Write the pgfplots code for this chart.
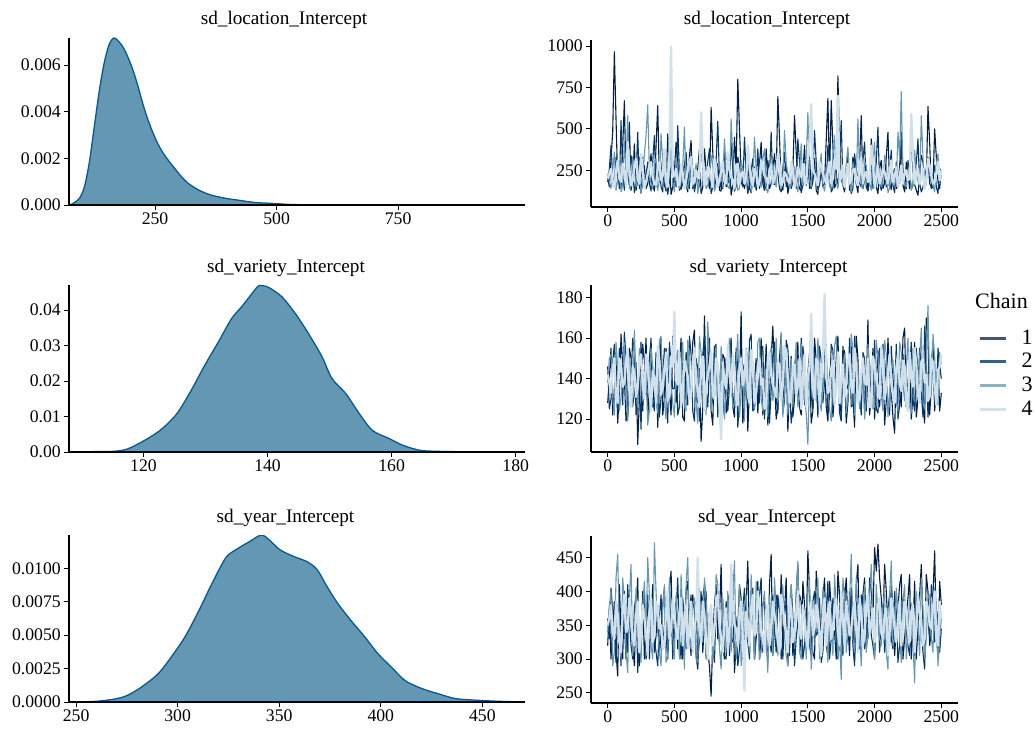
\documentclass[border=0pt]{standalone}
\usepackage{pgfplots}
\pgfplotsset{compat=1.18}
\usepackage{pgfplotstable}
\usepackage{fontspec}
\setmainfont{Liberation Serif}
\definecolor{chainA}{HTML}{011F4B}
\definecolor{chainB}{HTML}{03396C}
\definecolor{chainC}{HTML}{6497B1}
\definecolor{chainD}{HTML}{D1E1EC}
\definecolor{densfill}{HTML}{6497B1}
\definecolor{densline}{HTML}{005B96}

\pgfplotstableread{
x d
73 0
80 0.00005
85 0.00012
95 0.00030
105 0.00080
115 0.00185
125 0.00335
135 0.00485
145 0.00605
155 0.00685
165 0.00716
175 0.00702
185 0.00674
195 0.00630
205 0.00576
215 0.00508
225 0.00433
235 0.00368
245 0.00313
255 0.00266
265 0.00228
275 0.00198
290 0.00158
305 0.00120
320 0.00090
340 0.00064
360 0.00046
380 0.00035
400 0.00027
420 0.00021
440 0.00015
460 0.00010
480 0.00008
500 0.00006
520 0.00003
550 0.000012
600 0.000006
700 0.000003
800 0.000002
900 0.000001
1011 0
}\locdens

\pgfplotstableread{
x d
108 0
112 0.0001
115.3 0.0002
117.5 0.0009
120.2 0.0033
122.3 0.0056
123.9 0.0080
125.6 0.0113
127.7 0.0174
129.9 0.0245
132.1 0.0311
134.2 0.0376
135.8 0.0409
137.5 0.0447
138.5 0.0468
139.2 0.0469
140.2 0.0464
142.3 0.0438
144.5 0.0390
146.6 0.0334
148.8 0.0268
150.4 0.0207
152.6 0.0165
154.8 0.0108
156.9 0.0061
159.6 0.0038
161.8 0.0019
164.5 0.0005
167.2 0.0002
172.6 0.00005
181.5 0
}\vardens

\pgfplotstableread{
x d
246.5 0
255 0.00002
262 0.00008
270 0.00025
275.3 0.0005
282 0.0011
290.3 0.0021
297 0.0034
303.7 0.0049
310.3 0.0068
317 0.0089
323.7 0.0108
328.7 0.0114
335.3 0.0120
341.2 0.0125
345.3 0.0121
350.3 0.0114
357 0.0109
363.7 0.0105
368.7 0.0099
373.7 0.0086
378.7 0.0074
385.3 0.0061
392 0.0049
398.7 0.0036
405.3 0.0026
412 0.0016
420.3 0.0010
428.7 0.0006
437 0.00025
448.7 0.00012
458.7 0.00005
471 0
}\yeardens

% ---- sd_location_Intercept traces (draws at even steps) ----
\pgfplotstableread{
x a b c d
0 210 180 230 200
25 320 400 140 260
50 965 150 360 150
75 180 270 190 310
100 140 550 120 180
125 670 130 420 240
150 250 220 580 420
175 130 340 150 160
200 410 115 260 280
225 190 480 200 200
250 115 200 110 350
275 280 160 350 140
300 170 300 645 230
325 350 125 170 300
350 125 460 290 170
375 640 210 130 260
400 220 150 470 190
425 160 380 210 380
450 470 105 160 150
475 105 260 390 995
500 240 190 120 220
525 310 520 250 170
550 150 135 180 290
575 200 280 510 140
600 120 170 140 250
625 430 350 300 330
650 175 120 200 180
675 260 240 110 210
700 110 410 600 600
725 380 160 230 160
750 205 300 160 270
775 630 110 340 200
800 145 220 125 320
825 290 545 270 150
850 125 140 190 240
875 360 260 440 180
900 180 190 150 360
925 100 420 560 210
950 450 125 210 140
975 800 330 130 290
1000 230 180 310 230
1025 140 450 175 170
1050 330 110 240 400
1075 115 250 120 190
1100 270 150 450 260
1125 190 380 200 150
1150 420 200 150 310
1175 130 130 380 220
1200 210 310 115 170
1225 170 480 260 280
1250 350 165 185 200
1275 695 230 330 350
1300 155 120 140 160
1325 240 360 490 240
1350 110 190 220 190
1375 300 140 160 300
1400 580 270 270 150
1425 185 440 120 270
1450 125 115 410 210
1475 400 210 200 180
1500 215 330 600 340
1525 140 155 150 650
1550 320 490 240 230
1575 105 135 180 160
1600 250 240 350 280
1625 170 180 125 200
1650 685 400 280 250
1675 670 120 200 170
1700 145 280 460 320
1725 820 170 140 700
1750 200 550 260 210
1775 120 140 175 150
1800 360 230 390 290
1825 160 110 120 190
1850 280 350 230 260
1875 115 200 560 160
1900 580 150 160 330
1925 190 420 300 220
1950 130 125 190 180
1975 440 290 130 400
2000 225 185 420 150
2025 110 510 210 270
2050 310 130 150 200
2075 175 250 340 240
2100 480 160 115 170
2125 135 370 270 310
2150 260 115 200 210
2175 150 220 480 150
2200 390 480 725 280
2225 120 150 160 230
2250 230 310 250 190
2275 470 135 130 590
2300 165 260 370 170
2325 100 440 185 260
2350 340 120 580 200
2375 200 200 140 140
2400 635 330 300 320
2425 140 150 210 220
2450 500 280 120 180
2475 180 110 350 300
2500 250 240 220 250
}\locA
% ---- sd_location_Intercept traces (draws at odd steps) ----
\pgfplotstableread{
x a b c d
12.5 150 260 180 230
37.5 480 210 250 170
62.5 560 330 130 240
87.5 260 140 300 200
112.5 390 220 160 290
137.5 180 310 250 150
162.5 540 160 140 260
187.5 200 260 330 190
212.5 130 190 150 320
237.5 330 140 280 170
262.5 200 330 170 250
287.5 140 220 460 180
312.5 260 170 230 280
337.5 160 300 140 210
362.5 400 150 320 160
387.5 180 270 190 300
412.5 330 120 300 220
437.5 125 230 140 180
462.5 300 180 250 340
487.5 150 320 170 210
512.5 420 150 330 260
537.5 130 240 140 160
562.5 280 170 270 230
587.5 160 360 160 190
612.5 340 140 220 300
637.5 140 260 150 170
662.5 230 180 290 250
687.5 380 150 180 200
712.5 150 260 270 330
737.5 250 190 140 180
762.5 140 380 210 260
787.5 360 150 280 150
812.5 200 310 160 240
837.5 130 200 300 200
862.5 280 140 180 300
887.5 150 330 260 170
912.5 310 170 140 250
937.5 160 260 330 190
962.5 260 150 200 280
987.5 500 280 140 170
1012.5 180 150 260 240
1037.5 310 230 150 200
1062.5 140 170 300 290
1087.5 230 320 180 160
1112.5 130 180 260 230
1137.5 290 140 170 180
1162.5 170 250 320 270
1187.5 380 160 140 200
1212.5 140 230 210 250
1237.5 260 170 290 170
1262.5 200 300 150 230
1287.5 450 140 260 290
1312.5 130 260 190 180
1337.5 300 150 300 220
1362.5 170 240 140 170
1387.5 250 180 250 260
1412.5 360 140 170 190
1437.5 140 300 240 240
1462.5 230 160 150 290
1487.5 160 260 300 170
1512.5 330 140 200 420
1537.5 180 210 310 250
1562.5 130 300 150 190
1587.5 290 160 270 300
1612.5 150 240 160 230
1637.5 430 170 220 170
1662.5 200 290 150 300
1687.5 400 140 330 200
1712.5 170 210 180 260
1737.5 420 300 220 180
1762.5 160 160 150 280
1787.5 240 260 290 220
1812.5 130 190 170 170
1837.5 330 140 300 250
1862.5 170 260 160 200
1887.5 300 170 250 280
1912.5 140 310 140 170
1937.5 250 150 280 240
1962.5 180 230 170 190
1987.5 310 140 300 300
2012.5 150 300 150 210
2037.5 260 170 260 170
2062.5 140 230 180 260
2087.5 330 150 290 200
2112.5 170 250 140 240
2137.5 230 160 230 180
2162.5 140 300 170 270
2187.5 280 170 330 210
2212.5 160 260 200 170
2237.5 300 140 150 250
2262.5 140 230 280 200
2287.5 250 160 180 350
2312.5 130 290 240 220
2337.5 230 170 150 170
2362.5 300 150 330 260
2387.5 180 260 170 200
2412.5 420 170 250 280
2437.5 150 220 160 170
2462.5 330 150 290 230
2487.5 140 260 180 190
}\locB

% ---- sd_variety_Intercept traces ----
\pgfplotstableread{
x a b c d
0 128 146 138 142
25 155 130 152 133
50 135 157 122 150
75 118 125 145 128
100 162 142 131 145
125 140 163 158 138
150 125 121 119 155
175 150 139 141 126
200 132 153 164 143
225 107.5 128 126 136
250 158 115 148 152
275 143 149 133 130
300 120 136 117 147
325 152 160 155 124
350 138 124 140 140
375 116 144 123 156
400 160 131 161 132
425 130 155 129 145
450 146 118 150 129
475 122 147 136 151
500 155 135 121 173
525 137 122 154 137
550 160 158 142 126
575 119 141 126 149
600 148 127 159 141
625 134 152 131 131
650 164 119 147 155
675 128 145 118 135
700 109 133 153 146
725 171 161 137 124
750 142 126 168 142
775 124 140 124 153
800 156 155 145 130
825 136 121 132 147
850 118 148 156 110
875 150 137 120 139
900 131 124 149 157
925 160 159 138 133
950 121 132 127 145
975 145 116 162 127
1000 173 150 133 150
1025 128 143 119 140
1050 114 128 151 132
1075 154 162 141 154
1100 139 125 125 128
1125 123 139 158 146
1150 160 153 130 137
1175 133 120 146 125
1200 117 146 121 151
1225 150 134 155 142
1250 141 158 139 134
1275 126 123 128 148
1300 162 141 163 129
1325 137 129 134 156
1350 114 155 122 139
1375 151 118 150 131
1400 130 147 143 147
1425 158 136 126 136
1450 122 160 157 125
1475 146 127 131 152
1500 135 143 107.5 141
1525 118 131 148 172
1550 160 152 137 130
1575 140 121 160 148
1600 125 149 124 137
1625 152 138 145 182
1650 119 124 133 133
1675 148 157 119 145
1700 133 130 156 127
1725 161 145 140 153
1750 121 119 127 140
1775 144 154 152 131
1800 128 135 131 149
1825 156 126 162 136
1850 116 161 122 155
1875 150 132 146 128
1900 138 122 135 144
1925 124 150 120 138
1950 169 141 157 150
1975 131 128 138 126
2000 120 159 126 147
2025 154 123 150 135
2050 142 146 132 156
2075 117 137 159 130
2100 160 125 121 143
2125 134 156 144 139
2150 113 131 137 128
2175 152 120 124 152
2200 126 148 153 134
2225 165 139 129 146
2250 139 127 160 124
2275 120 158 123 141
2300 158 124 147 155
2325 130 143 134 132
2350 147 133 165 148
2375 118 166 125 138
2400 162 121 176 129
2425 136 147 132 150
2450 124 130 151 136
2475 150 155 127 144
2500 133 140 147 152
}\varA
\pgfplotstableread{
x a b c d
12.5 140 125 150 138
37.5 122 148 131 145
62.5 150 138 158 131
87.5 133 155 124 150
112.5 146 127 142 136
137.5 119 150 130 148
162.5 155 132 150 134
187.5 127 160 126 146
212.5 148 122 139 131
237.5 130 140 155 149
262.5 124 157 129 137
287.5 160 132 147 152
312.5 136 150 124 135
337.5 126 129 146 144
362.5 150 153 131 128
387.5 140 121 159 149
412.5 122 141 136 136
437.5 155 130 120 153
462.5 133 158 143 132
487.5 161 135 128 146
512.5 128 152 146 139
537.5 146 126 133 153
562.5 121 145 158 133
587.5 153 133 124 145
612.5 135 161 140 130
637.5 158 124 152 148
662.5 130 150 128 138
687.5 145 119 161 126
712.5 125 152 134 151
737.5 138 134 122 136
762.5 160 147 149 146
787.5 117 128 136 132
812.5 143 157 156 150
837.5 128 138 124 127
862.5 152 122 145 148
887.5 123 150 133 135
912.5 147 136 160 143
937.5 126 126 126 152
962.5 155 153 148 130
987.5 136 129 121 145
1012.5 118 147 141 137
1037.5 152 133 155 154
1062.5 135 159 127 128
1087.5 125 124 146 147
1112.5 150 140 132 133
1137.5 142 128 160 150
1162.5 122 156 124 140
1187.5 157 135 141 127
1212.5 131 118 152 153
1237.5 166 152 129 137
1262.5 120 130 160 131
1287.5 150 145 135 147
1312.5 128 123 121 138
1337.5 154 159 150 153
1362.5 137 138 137 128
1387.5 121 126 126 145
1412.5 145 151 158 132
1437.5 126 129 131 150
1462.5 156 146 145 139
1487.5 131 132 123 126
1512.5 150 153 141 146
1537.5 124 125 156 136
1562.5 149 140 129 150
1587.5 133 156 146 127
1612.5 158 128 135 152
1637.5 126 147 157 141
1662.5 142 131 125 134
1687.5 121 154 139 149
1712.5 150 139 161 136
1737.5 132 123 130 128
1762.5 156 150 147 147
1787.5 118 137 123 138
1812.5 146 160 141 152
1837.5 131 127 154 133
1862.5 161 145 133 145
1887.5 127 133 125 130
1912.5 150 153 151 150
1937.5 135 124 130 137
1962.5 122 148 145 126
1987.5 155 136 125 151
2012.5 139 125 159 140
2037.5 126 155 138 130
2062.5 157 131 124 148
2087.5 129 149 152 135
2112.5 144 122 133 152
2137.5 121 141 149 131
2162.5 149 157 128 145
2187.5 134 127 158 138
2212.5 160 152 137 149
2237.5 126 133 146 129
2262.5 147 145 126 153
2287.5 132 130 155 136
2312.5 121 155 133 147
2337.5 155 137 150 128
2362.5 127 121 128 150
2387.5 170 150 148 142
2412.5 122 133 135 131
2437.5 151 158 162 148
2462.5 134 127 129 127
2487.5 124 147 153 146
}\varB

% ---- sd_year_Intercept traces ----
\pgfplotstableread{
x a b c d
0 320 360 340 350
25 300 405 400 380
50 385 330 310 330
75 275 380 455 365
100 340 290 300 310
125 400 350 385 395
150 310 410 280 345
175 365 320 440 370
200 290 375 330 320
225 420 280 370 385
250 330 345 295 340
275 300 400 415 360
300 395 315 450 305
325 355 370 320 390
350 310 330 472 335
375 380 290 340 375
400 340 395 290 350
425 405 350 410 320
450 300 310 305 400
475 430 380 375 345
500 360 335 300 370
525 315 420 355 330
550 390 300 425 390
575 345 360 285 355
600 415 325 450 315
625 305 395 315 385
650 370 345 390 340
675 285 300 295 450
700 400 370 360 325
725 350 410 420 365
750 310 320 300 300
775 245 355 375 380
800 380 295 330 345
825 330 385 410 395
850 440 340 285 330
875 300 305 355 360
900 365 395 400 310
925 410 330 310 440
950 280 370 445 350
975 345 290 330 320
1000 390 350 290 385
1025 320 405 380 253
1050 445 325 340 355
1075 360 375 425 375
1100 300 300 300 335
1125 415 360 365 400
1150 335 420 310 345
1175 385 335 400 310
1200 295 380 280 380
1225 455 310 350 340
1250 350 345 420 365
1275 310 395 305 325
1300 425 300 375 395
1325 370 365 335 350
1350 290 330 290 310
1375 400 410 410 375
1400 330 290 325 340
1425 440 355 445 400
1450 310 385 300 330
1475 380 320 360 360
1500 460 370 395 315
1525 345 305 285 385
1550 300 400 350 345
1575 395 340 420 370
1600 355 295 310 305
1625 420 360 380 390
1650 305 415 295 350
1675 375 330 360 330
1700 340 380 425 375
1725 430 300 300 340
1750 310 350 270 400
1775 390 405 395 320
1800 355 325 340 360
1825 405 370 455 345
1850 300 290 310 385
1875 440 345 375 310
1900 360 395 290 370
1925 420 315 410 335
1950 330 365 335 395
1975 400 335 440 350
2000 465 300 300 325
2025 470 385 365 380
2050 390 345 320 340
2075 440 310 400 365
2100 345 375 285 305
2125 410 330 445 390
2150 305 400 330 345
2175 375 295 370 360
2200 425 355 295 320
2225 330 385 410 385
2250 390 320 340 340
2275 300 365 380 370
2300 415 305 265 310
2325 350 395 350 395
2350 440 340 420 350
2375 310 285 300 330
2400 400 360 390 375
2425 340 410 330 345
2450 460 325 405 400
2475 300 370 290 320
2500 380 345 360 360
}\yearA
\pgfplotstableread{
x a b c d
12.5 375 330 380 360
37.5 350 370 290 340
62.5 310 295 420 385
87.5 410 345 335 325
112.5 300 390 420 370
137.5 355 300 310 340
162.5 395 360 390 390
187.5 320 300 305 330
212.5 370 395 405 365
237.5 290 330 320 310
262.5 400 385 380 380
287.5 345 300 330 335
312.5 300 355 395 370
337.5 410 390 300 325
362.5 335 310 400 385
387.5 305 360 310 345
412.5 380 320 375 315
437.5 330 380 295 370
462.5 405 340 420 330
487.5 320 300 335 390
512.5 385 370 395 340
537.5 345 330 300 370
562.5 300 390 365 320
587.5 400 315 410 380
612.5 335 370 330 350
637.5 395 310 380 310
662.5 305 385 300 365
687.5 350 330 405 345
712.5 310 390 325 385
737.5 400 300 390 330
762.5 290 370 340 360
787.5 330 315 300 320
812.5 410 380 425 390
837.5 360 320 315 350
862.5 320 365 390 310
887.5 385 300 325 375
912.5 305 380 350 340
937.5 425 325 395 380
962.5 320 360 300 345
987.5 410 315 410 365
1012.5 300 375 320 330
1037.5 380 340 395 370
1062.5 330 300 310 320
1087.5 405 390 360 395
1112.5 350 330 415 340
1137.5 300 395 300 380
1162.5 380 310 380 330
1187.5 325 370 330 370
1212.5 410 335 395 320
1237.5 305 395 305 385
1262.5 395 310 375 350
1287.5 340 370 340 310
1312.5 300 320 410 380
1337.5 420 385 305 340
1362.5 355 305 380 390
1387.5 305 365 335 325
1412.5 395 330 400 365
1437.5 345 395 310 345
1462.5 415 300 370 380
1487.5 330 355 300 330
1512.5 400 320 415 370
1537.5 310 385 330 335
1562.5 430 335 385 380
1587.5 335 390 300 340
1612.5 390 310 405 370
1637.5 320 370 340 320
1662.5 415 300 390 385
1687.5 345 390 305 345
1712.5 300 325 375 390
1737.5 395 380 330 320
1762.5 350 305 420 360
1787.5 420 360 310 385
1812.5 305 400 385 335
1837.5 360 320 330 370
1862.5 410 385 420 345
1887.5 320 315 340 390
1912.5 395 370 375 320
1937.5 350 330 310 380
1962.5 420 390 395 340
1987.5 360 320 355 375
2012.5 430 360 410 345
2037.5 420 310 330 390
2062.5 350 380 380 330
2087.5 400 335 310 375
2112.5 320 395 395 340
2137.5 380 315 320 370
2162.5 345 370 405 325
2187.5 410 320 335 385
2212.5 300 390 385 350
2237.5 365 340 300 370
2262.5 425 305 395 325
2287.5 345 370 325 380
2312.5 300 330 400 345
2337.5 395 380 305 370
2362.5 350 310 375 320
2387.5 425 375 330 385
2412.5 320 330 395 350
2437.5 395 385 310 375
2462.5 340 340 380 330
2487.5 415 310 330 385
}\yearB

\pgfplotstablevertcat{\locA}{\locB}
\pgfplotstablesort{\loctrace}{\locA}
\pgfplotstablevertcat{\varA}{\varB}
\pgfplotstablesort{\vartrace}{\varA}
\pgfplotstablevertcat{\yearA}{\yearB}
\pgfplotstablesort{\yeartrace}{\yearA}

\pgfplotsset{
  base/.style={
    scale only axis, anchor=south west, height=167pt,
    axis x line*=bottom, axis y line*=left,
    axis line style={line width=1.1pt, black, -},
    tick style={line width=0.8pt, black},
    tick align=outside, major tick length=5pt,
    ticklabel style={font=\fontsize{17.7}{20}\selectfont, text=black},
    xticklabel style={inner sep=1pt, yshift=-2pt},
    yticklabel style={inner sep=1pt, xshift=-2pt},
    /pgf/number format/assume math mode=true,
    /pgf/number format/1000 sep={},
    scaled ticks=false, axis on top,
  },
  dens/.style={base, width=456pt, ymin=0},
  trace/.style={base, width=367pt, xmin=-125, xmax=2625, xtick={0,500,1000,1500,2000,2500}},
  tl/.style={line width=1.1pt, line join=round},
  tlD/.style={line width=2.3pt, line join=round},
}

\begin{document}
\begin{tikzpicture}
\useasboundingbox (0pt,0pt) rectangle (1034pt,729pt);

% Row 1
\begin{axis}[dens, at={(69pt,524pt)}, xmin=73, xmax=1011, ymax=0.00716,
  xtick={250,500,750}, ytick={0,0.002,0.004,0.006},
  yticklabels={0.000,0.002,0.004,0.006}]
\addplot[draw=none, fill=densfill, smooth] table[x=x,y=d]{\locdens} \closedcycle;
\addplot[densline, line width=1.3pt, smooth] table[x=x,y=d]{\locdens};
\end{axis}
\begin{axis}[trace, at={(591pt,522pt)}, ymin=29, ymax=1036,
  ytick={250,500,750,1000}]
\addplot[chainA, tl] table[x=x,y=a]{\loctrace};
\addplot[chainB, tl] table[x=x,y=b]{\loctrace};
\addplot[chainC, tl] table[x=x,y=c]{\loctrace};
\addplot[chainD, tlD] table[x=x,y=d]{\loctrace};
\end{axis}

% Row 2
\begin{axis}[dens, at={(69pt,277pt)}, xmin=108, xmax=181.5, ymax=0.0471,
  xtick={120,140,160,180}, ytick={0,0.01,0.02,0.03,0.04},
  yticklabels={0.00,0.01,0.02,0.03,0.04}]
\addplot[draw=none, fill=densfill, smooth] table[x=x,y=d]{\vardens} \closedcycle;
\addplot[densline, line width=1.3pt, smooth] table[x=x,y=d]{\vardens};
\end{axis}
\begin{axis}[trace, at={(591pt,277pt)}, ymin=103.75, ymax=186.25,
  ytick={120,140,160,180},
  legend style={at={(1.06,0.7335)}, anchor=north west, draw=none, fill=none,
    inner sep=0pt, row sep=7.7pt, column sep=16pt,
    font=\fontsize{22}{22}\selectfont, nodes={inner sep=0pt}},
  legend cell align=left,
  legend image code/.code={\fill[#1] (0pt,-1pt) rectangle (25pt,1pt);}]
\addplot[chainA, tl, forget plot] table[x=x,y=a]{\vartrace};
\addplot[chainB, tl, forget plot] table[x=x,y=b]{\vartrace};
\addplot[chainC, tl, forget plot] table[x=x,y=c]{\vartrace};
\addplot[chainD, tlD, forget plot] table[x=x,y=d]{\vartrace};
\addlegendimage{chainA!75!white}
\addlegendentry{1}
\addlegendimage{chainB!80!white}
\addlegendentry{2}
\addlegendimage{chainC!75!white}
\addlegendentry{3}
\addlegendimage{chainD}
\addlegendentry{4}
\end{axis}

% Row 3
\begin{axis}[dens, at={(69pt,27pt)}, xmin=246.5, xmax=471, ymax=0.0125,
  xtick={250,300,350,400,450}, ytick={0,0.0025,0.005,0.0075,0.01},
  yticklabels={0.0000,0.0025,0.0050,0.0075,0.0100}]
\addplot[draw=none, fill=densfill, smooth] table[x=x,y=d]{\yeardens} \closedcycle;
\addplot[densline, line width=1.3pt, smooth] table[x=x,y=d]{\yeardens};
\end{axis}
\begin{axis}[trace, at={(591pt,26pt)}, ymin=235, ymax=482,
  ytick={250,300,350,400,450}]
\addplot[chainA, tl] table[x=x,y=a]{\yeartrace};
\addplot[chainB, tl] table[x=x,y=b]{\yeartrace};
\addplot[chainC, tl] table[x=x,y=c]{\yeartrace};
\addplot[chainD, tlD] table[x=x,y=d]{\yeartrace};
\end{axis}

% Titles
\begin{scope}[every node/.style={font=\fontsize{19.2}{22}\selectfont, anchor=base, inner sep=0pt}]
\node at (284pt,704.5pt) {sd{\char"5F}location{\char"5F}Intercept};
\node at (767pt,704.5pt) {sd{\char"5F}location{\char"5F}Intercept};
\node at (286pt,456.5pt) {sd{\char"5F}variety{\char"5F}Intercept};
\node at (768.5pt,456.5pt) {sd{\char"5F}variety{\char"5F}Intercept};
\node at (285.5pt,206.5pt) {sd{\char"5F}year{\char"5F}Intercept};
\node at (767pt,206.5pt) {sd{\char"5F}year{\char"5F}Intercept};
\end{scope}
\node[font=\fontsize{22}{22}\selectfont, anchor=base west, inner sep=0pt] at (975pt,420pt) {Chain};
\end{tikzpicture}
\end{document}
